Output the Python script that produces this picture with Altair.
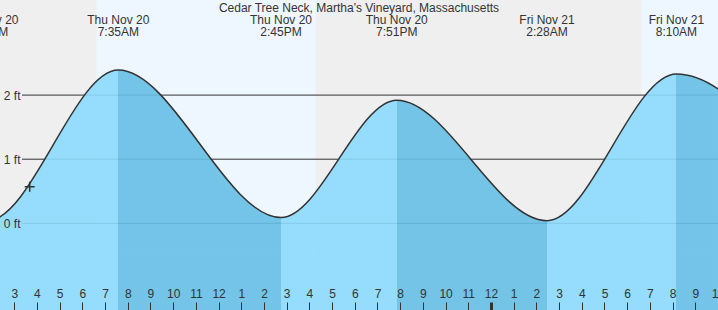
import altair as alt
import pandas as pd

# ---- data (hours since Thu Nov 20 00:00) ----
tide_hours = [-4.67, 1.82, 7.583, 14.75, 19.85, 26.467, 32.167, 38.83]
tide_feet = [1.95, 0.04, 2.39, 0.09, 1.92, 0.04, 2.33, 0.10]

label_hours = [1.82, 7.583, 14.75, 19.85, 26.467, 32.167]
label_days = ["Thu Nov 20", "Thu Nov 20", "Thu Nov 20", "Thu Nov 20", "Fri Nov 21", "Fri Nov 21"]
label_times = ["1:49AM", "7:35AM", "2:45PM", "7:51PM", "2:28AM", "8:10AM"]

day_start = [6.62, 30.63]
day_end = [16.28, 36.0]

now_hour = [3.68]
now_feet = [0.57]

tick_hours = list(range(3, 35))
ft_levels = [0, 1, 2]

title_text = "Cedar Tree Neck, Martha's Vineyard, Massachusetts"

# ---- styling ----
W, H = 718, 310
x_domain = [2.372, 34.0]
y_domain = [-1.353, 3.484]
FONT = "Liberation Sans"
TXT = "#333333"
LIGHT = "#8cdafd"
DARK = "#66bfe5"

tide = pd.DataFrame({"h": tide_hours, "ft": tide_feet})
labels = pd.DataFrame({"h": label_hours,
                       "txt": [d + "\n" + t for d, t in zip(label_days, label_times)]})
days = pd.DataFrame({"s": day_start, "e": day_end})
now = pd.DataFrame({"h": now_hour, "ft": now_feet})
levels = pd.DataFrame({"ft": ft_levels})
ttl = pd.DataFrame({"t": [title_text]})

# gradient stops: rising segments light, falling segments dark
t0, t1 = tide_hours[0], tide_hours[-1]
stops = []
for i in range(len(tide_hours) - 1):
    c = LIGHT if tide_feet[i + 1] > tide_feet[i] else DARK
    a = (tide_hours[i] - t0) / (t1 - t0)
    b = (tide_hours[i + 1] - t0) / (t1 - t0)
    stops.append({"offset": a, "color": c})
    stops.append({"offset": b, "color": c})
grad = {"gradient": "linear", "x1": 0, "x2": 1, "y1": 0, "y2": 0, "stops": stops}

xs = alt.Scale(domain=x_domain, nice=False, zero=False)
ys = alt.Scale(domain=y_domain, nice=False, zero=False)

x_axis = alt.Axis(
    orient="top", offset=-H, values=tick_hours, domain=False, grid=False,
    tickSize=8, tickColor=TXT, zindex=1,
    tickWidth={"condition": {"test": "datum.value == 24", "value": 3}, "value": 1},
    labelExpr="(datum.value % 12 == 0) ? '12' : '' + (datum.value % 12)",
    labelFont=FONT, labelFontSize=12, labelColor=TXT, labelPadding=2,
    labelFlush=False, labelOverlap=False, labelBound=False, title=None,
)
y_axis = alt.Axis(
    orient="left", offset=-22, values=ft_levels, domain=False, grid=False,
    ticks=False, tickSize=0, labelPadding=2, zindex=1,
    labelExpr="datum.value + ' ft'",
    labelFont=FONT, labelFontSize=12, labelColor=TXT, title=None,
)

X = lambda f: alt.X(f, scale=xs, axis=x_axis)
Y = lambda f: alt.Y(f, scale=ys, axis=y_axis)

day_bg = alt.Chart(days).mark_rect(color="#eef6ff").encode(
    x=X("s:Q"), x2="e:Q"
)

grid = alt.Chart(levels).mark_rule(color=TXT, strokeWidth=1).encode(
    y=Y("ft:Q"), x=alt.value(22), x2=alt.value(W)
)

water = alt.Chart(tide).mark_area(interpolate="monotone", clip=True, color=grad, fillOpacity=0.9).encode(
    x=X("h:Q"), y=Y("ft:Q"), y2=alt.datum(y_domain[0] - 0.5)
)

curve = alt.Chart(tide).mark_line(interpolate="monotone", clip=True, color=TXT, strokeWidth=1.5).encode(
    x=X("h:Q"), y=Y("ft:Q")
)

marker = alt.Chart(now).mark_point(
    shape="M-1,0H1M0,-1V1", size=100, filled=False, color=TXT, strokeWidth=1.5, opacity=1
).encode(x=X("h:Q"), y=Y("ft:Q"))

ext_labels = alt.Chart(labels).mark_text(
    font=FONT, fontSize=12, color=TXT, align="center", baseline="alphabetic",
    lineBreak="\n", lineHeight=12,
).encode(x=X("h:Q"), y=alt.value(23.5), text="txt:N")

title = alt.Chart(ttl).mark_text(
    font=FONT, fontSize=12, color=TXT, align="center", baseline="middle"
).encode(x=alt.value(W / 2), y=alt.value(8), text="t:N")

chart = alt.layer(day_bg, grid, water, curve, marker, ext_labels, title).properties(
    width=W, height=H, padding=0, autosize=alt.AutoSizeParams(type="none"),
    background="#efefef",
).configure_view(stroke=None, fill="#efefef")

chart.save("out.html", embed_options={"renderer": "svg", "actions": False})
